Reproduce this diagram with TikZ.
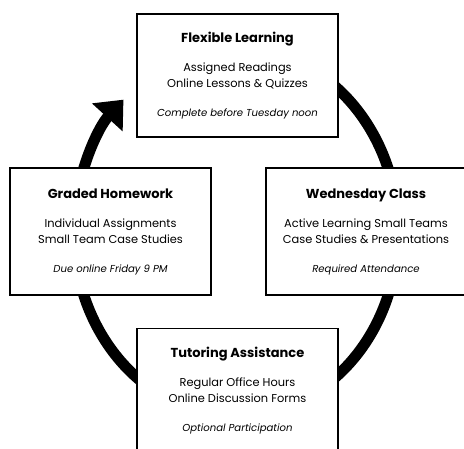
\documentclass[tikz,border=0pt]{standalone}
\usepackage{fontspec}
\setmainfont{Poppins}
\usetikzlibrary{arrows.meta,calc}

\tikzset{
  stagebox/.style={draw=black, line width=1.6pt, fill=white, minimum width=201pt,
    minimum height=125pt, inner sep=0pt, align=center,
    font=\fontsize{11.5}{16}\selectfont},
  cycleline/.style={line width=11pt, -{Triangle[width=40pt,length=24pt]}},
}
\newcommand{\stagehead}[1]{{\fontsize{13}{16}\selectfont\bfseries #1}}
\newcommand{\stagebody}[1]{{\fontsize{11.4}{16}\selectfont #1}}
\newcommand{\stagenote}[1]{{\fontsize{10.1}{16}\selectfont\itshape #1}}

\begin{document}
\begin{tikzpicture}[x=1pt,y=1pt]
    \useasboundingbox (0,0) rectangle (464,-448);

    % Draw the cycle
    \coordinate (hub) at (236,-232);
    \draw[cycleline] ($(hub)+(80:162 and 184)$)
        arc[start angle=80, end angle=-226, x radius=162, y radius=184];

    % Boxes for the four stages
    \node[stagebox, minimum height=123pt] (flex) at (237.5,-75.5)
        {\stagehead{Flexible Learning}\\[13pt]
         \stagebody{Assigned Readings}\\
         \stagebody{Online Lessons \& Quizzes}\\[13pt]
         \stagenote{Complete before Tuesday noon}};
    \node[stagebox, minimum height=127pt] (homework) at (110.5,-231.5)
        {\stagehead{Graded Homework}\\[13pt]
         \stagebody{Individual Assignments}\\
         \stagebody{Small Team Case Studies}\\[13pt]
         \stagenote{Due online Friday 9 PM}};
    \node[stagebox, minimum height=127pt, minimum width=200pt] (wednesday) at (366,-231.5)
        {\stagehead{Wednesday Class}\\[13pt]
         \stagebody{Active Learning Small Teams}\\
         \stagebody{Case Studies \& Presentations}\\[13pt]
         \stagenote{Required Attendance}};
    \node[stagebox] (tutoring) at (237.5,-391)
        {\stagehead{Tutoring Assistance}\\[13pt]
         \stagebody{Regular Office Hours}\\
         \stagebody{Online Discussion Forms}\\[13pt]
         \stagenote{Optional Participation}};

\end{tikzpicture}
\end{document}
